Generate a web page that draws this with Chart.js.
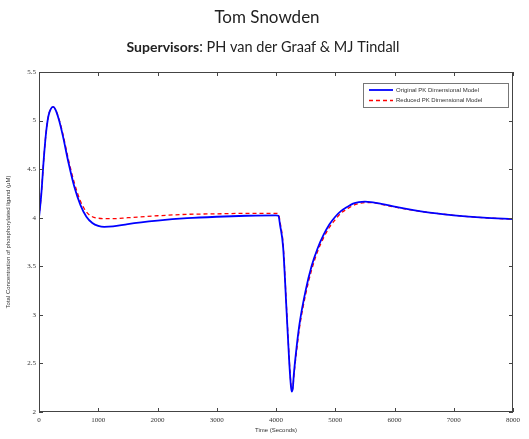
<!DOCTYPE html>
<html><head><meta charset="utf-8">
<script src="https://cdn.jsdelivr.net/npm/chart.js@4"></script>
<style>html,body{margin:0;padding:0;background:#fff}#c{display:block}</style>
</head><body>
<canvas id="c" width="529" height="439"></canvas>
<script>
const titleLine = "Tom Snowden";
const subtitleBold = "Supervisors";
const subtitleRest = ": PH van der Graaf & MJ Tindall";
const xAxisTitle = "Time (Seconds)";
const yAxisTitle = "Total Concentration of phosphorylated ligand (μM)";
const seriesNames = ["Original PK Dimensional Model", "Reduced PK Dimensional Model"];
const xTicks = [0, 1000, 2000, 3000, 4000, 5000, 6000, 7000, 8000];
const yTicks = [2, 2.5, 3, 3.5, 4, 4.5, 5, 5.5];

const timeOriginal = [0,40,80,120,160,200,240,280,340,400,500,600,700,800,900,1000,1100,1250,1500,2000,2500,3000,3500,4000,4040,4070,4120,4180,4225,4250,4265,4285,4300,4350,4400,4500,4600,4700,4800,4900,5000,5100,5200,5300,5400,5500,5600,5800,6000,6500,7000,7500,8000];
const valuesOriginal = [4.00,4.25,4.60,4.88,5.05,5.12,5.14,5.11,5.00,4.85,4.56,4.31,4.13,4.01,3.945,3.915,3.905,3.91,3.935,3.97,3.995,4.01,4.02,4.025,4.02,3.92,3.70,3.02,2.50,2.28,2.21,2.25,2.38,2.68,2.92,3.25,3.50,3.68,3.82,3.93,4.01,4.07,4.11,4.145,4.16,4.165,4.16,4.14,4.115,4.06,4.025,4.00,3.985];

const timeReduced = [0,40,80,120,160,200,240,280,340,400,500,600,700,800,900,1000,1100,1250,1500,2000,2500,3000,3500,4000,4040,4070,4120,4180,4225,4250,4265,4285,4300,4350,4400,4500,4600,4700,4800,4900,5000,5100,5200,5300,5400,5500,5600,5800,6000,6500,7000,7500,8000];
const valuesReduced = [4.00,4.25,4.60,4.88,5.05,5.12,5.14,5.11,5.01,4.87,4.59,4.35,4.17,4.06,4.01,3.995,3.99,3.99,4.00,4.02,4.035,4.04,4.045,4.045,4.04,3.95,3.73,3.05,2.53,2.30,2.22,2.25,2.36,2.64,2.88,3.21,3.46,3.65,3.79,3.90,3.98,4.05,4.09,4.125,4.145,4.155,4.155,4.135,4.11,4.06,4.025,4.00,3.985];

const toPoints = (ts, vs) => ts.map((t, i) => ({x: t, y: vs[i]}));

const framePlugin = {
  id: 'frame',
  afterDraw(chart) {
    const ctx = chart.ctx;
    const a = chart.chartArea;
    const xs = chart.scales.x, ys = chart.scales.y;
    ctx.save();
    ctx.strokeStyle = '#444';
    ctx.lineWidth = 1;
    ctx.strokeRect(a.left + 0.5, a.top + 0.5, a.right - a.left - 1, a.bottom - a.top - 1);
    ctx.beginPath();
    const tl = 4;
    xTicks.forEach(v => {
      const px = Math.round(xs.getPixelForValue(v)) + 0.5;
      ctx.moveTo(px, a.bottom); ctx.lineTo(px, a.bottom - tl);
      ctx.moveTo(px, a.top); ctx.lineTo(px, a.top + tl);
    });
    yTicks.forEach(v => {
      const py = Math.round(ys.getPixelForValue(v)) + 0.5;
      ctx.moveTo(a.left, py); ctx.lineTo(a.left + tl, py);
      ctx.moveTo(a.right, py); ctx.lineTo(a.right - tl, py);
    });
    ctx.stroke();

    // legend
    const lx = 363, ly = 83, lw = 145, lh = 24;
    ctx.fillStyle = '#fff';
    ctx.fillRect(lx, ly, lw, lh);
    ctx.strokeStyle = '#777';
    ctx.strokeRect(lx + 0.5, ly + 0.5, lw, lh);
    ctx.font = '6px "Liberation Sans", sans-serif';
    ctx.textBaseline = 'middle';
    chart.data.datasets.forEach((ds, i) => {
      const cy = ly + 7 + i * 10.5;
      ctx.strokeStyle = ds.borderColor;
      ctx.lineWidth = ds.borderWidth;
      ctx.setLineDash(ds.borderDash || []);
      ctx.beginPath(); ctx.moveTo(lx + 6, cy); ctx.lineTo(lx + 30, cy); ctx.stroke();
      ctx.setLineDash([]);
      ctx.fillStyle = '#333';
      ctx.fillText(ds.label, lx + 33, cy);
    });

    // titles
    ctx.fillStyle = '#222';
    ctx.textBaseline = 'middle';
    ctx.textAlign = 'center';
    ctx.font = '17px Lato, sans-serif';
    ctx.fillText(titleLine, 267, 18);
    ctx.textAlign = 'left';
    const bFont = 'bold 14px Lato, sans-serif', rFont = '14.5px Lato, sans-serif';
    ctx.font = bFont; const wb = ctx.measureText(subtitleBold).width;
    ctx.font = rFont; const wr = ctx.measureText(subtitleRest).width;
    const sx = 263 - (wb + wr) / 2;
    ctx.font = bFont; ctx.fillText(subtitleBold, sx, 47);
    ctx.font = rFont; ctx.fillText(subtitleRest, sx + wb, 47);
    ctx.restore();
  }
};

new Chart(document.getElementById('c'), {
  type: 'line',
  data: {
    datasets: [
      { label: seriesNames[0], data: toPoints(timeOriginal, valuesOriginal), borderColor: '#0000ff', borderWidth: 1.8, pointRadius: 0, cubicInterpolationMode: 'monotone', fill: false },
      { label: seriesNames[1], data: toPoints(timeReduced, valuesReduced), borderColor: '#ff0000', borderWidth: 1.3, borderDash: [4, 3], pointRadius: 0, cubicInterpolationMode: 'monotone', fill: false }
    ]
  },
  options: {
    responsive: false,
    devicePixelRatio: 1,
    animation: false,
    layout: { padding: { left: 0, right: 16, top: 72, bottom: 0 } },
    plugins: { legend: { display: false }, tooltip: { enabled: false } },
    scales: {
      x: {
        type: 'linear', min: 0, max: 8000,
        afterBuildTicks: s => { s.ticks = xTicks.map(v => ({ value: v })); },
        afterFit: s => { s.height = 27; },
        grid: { display: false, drawTicks: false, tickLength: 0 }, border: { display: false },
        ticks: { padding: 4, color: '#333', font: { family: '"Liberation Serif", serif', size: 7 }, callback: v => String(v), maxRotation: 0, autoSkip: false },
        title: { display: true, text: xAxisTitle, color: '#333', font: { family: '"Liberation Sans", sans-serif', size: 6 }, padding: { top: 0, bottom: 5 } }
      },
      y: {
        type: 'linear', min: 2, max: 5.5,
        afterBuildTicks: s => { s.ticks = yTicks.map(v => ({ value: v })); },
        afterFit: s => { s.width = 39; },
        grid: { display: false, drawTicks: false, tickLength: 0 }, border: { display: false },
        ticks: { padding: 3, color: '#333', font: { family: '"Liberation Serif", serif', size: 7 }, callback: v => String(v), autoSkip: false },
        title: { display: true, text: yAxisTitle, color: '#333', font: { family: '"Liberation Sans", sans-serif', size: 6 }, padding: { top: 5, bottom: 0 } }
      }
    }
  },
  plugins: [framePlugin]
});
</script>
</body></html>
